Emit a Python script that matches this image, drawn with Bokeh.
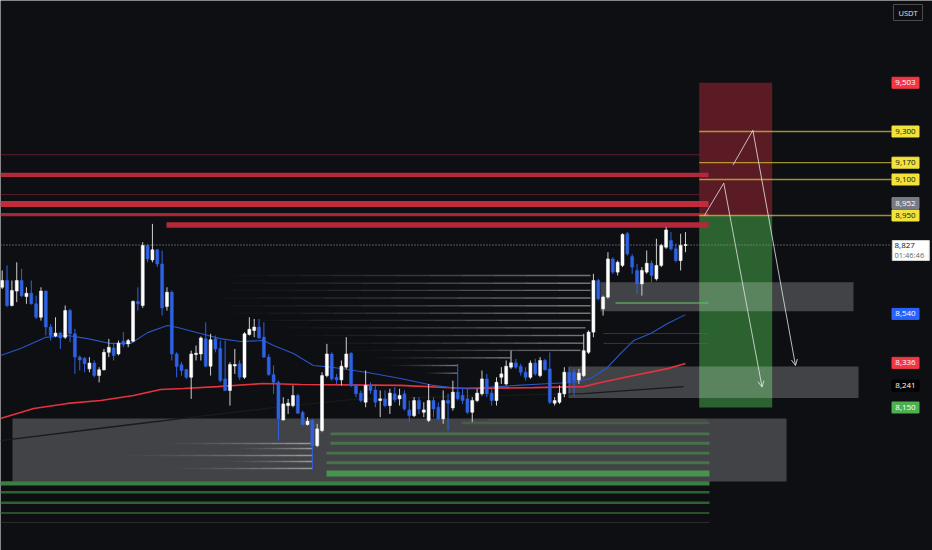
import numpy as np
from bokeh.plotting import figure
from bokeh.models import Range1d, Arrow, OpenHead
from bokeh.embed import file_html
from bokeh.resources import INLINE
from bokeh.core.properties import value

# ---------------- data (prices in USDT, x in bar index) ----------------
opens = [8651, 8679, 8575, 8635, 8679, 8612, 8626, 8582, 8526, 8635,
         8485, 8448, 8460, 8443, 8554, 8457, 8360, 8355, 8311, 8335,
         8283, 8307, 8380, 8398, 8373, 8426, 8415, 8426, 8592, 8575,
         8825, 8765, 8807, 8748, 8571, 8630, 8373, 8328, 8308, 8276,
         8371, 8373, 8436, 8322, 8436, 8396, 8269, 8221, 8323, 8332,
         8276, 8454, 8471, 8485, 8443, 8360, 8287, 8255, 8098, 8158,
         8158, 8200, 8130, 8079, 8096, 7991, 8054, 8283, 8373, 8276,
         8265, 8318, 8376, 8242, 8210, 8172, 8242, 8223, 8179, 8186,
         8158, 8207, 8186, 8207, 8140, 8116, 8179, 8130, 8096, 8179,
         8151, 8103, 8179, 8148, 8214, 8200, 8186, 8130, 8179, 8207,
         8269, 8210, 8179, 8276, 8248, 8318, 8336, 8322, 8297, 8276,
         8335, 8283, 8346, 8311, 8168, 8172, 8207, 8297, 8297, 8265,
         8283, 8380, 8464, 8679, 8561, 8610, 8769, 8714, 8742, 8874,
         8779, 8721, 8665, 8714, 8751, 8686, 8742, 8818, 8846, 8811,
         8762, 8825]
highs = [8721, 8742, 8679, 8755, 8728, 8651, 8679, 8616, 8651, 8637,
         8498, 8526, 8464, 8575, 8561, 8478, 8367, 8360, 8360, 8346,
         8318, 8394, 8436, 8418, 8429, 8464, 8436, 8596, 8651, 8839,
         8832, 8915, 8811, 8804, 8651, 8637, 8380, 8339, 8311, 8387,
         8408, 8446, 8505, 8457, 8450, 8429, 8429, 8339, 8394, 8346,
         8464, 8526, 8519, 8519, 8505, 8373, 8325, 8262, 8193, 8186,
         8242, 8207, 8137, 8110, 8103, 8082, 8297, 8415, 8380, 8290,
         8346, 8443, 8380, 8248, 8221, 8304, 8255, 8248, 8221, 8221,
         8228, 8235, 8228, 8221, 8179, 8193, 8193, 8172, 8248, 8193,
         8172, 8221, 8207, 8262, 8332, 8228, 8228, 8193, 8228, 8304,
         8290, 8228, 8276, 8318, 8346, 8387, 8353, 8332, 8318, 8346,
         8353, 8360, 8353, 8380, 8193, 8242, 8318, 8318, 8311, 8311,
         8457, 8471, 8707, 8686, 8616, 8797, 8776, 8762, 8876, 8881,
         8790, 8748, 8735, 8804, 8762, 8853, 8832, 8901, 8881, 8832,
         8874, 8881]
lows = [8644, 8568, 8571, 8589, 8610, 8582, 8579, 8519, 8512, 8450,
        8429, 8443, 8394, 8436, 8422, 8290, 8304, 8297, 8297, 8276,
        8255, 8304, 8360, 8346, 8367, 8401, 8401, 8422, 8554, 8565,
        8755, 8755, 8735, 8533, 8554, 8346, 8276, 8283, 8269, 8186,
        8346, 8346, 8318, 8283, 8380, 8255, 8218, 8158, 8290, 8265,
        8269, 8450, 8443, 8436, 8357, 8283, 8207, 8012, 8096, 8123,
        8151, 8123, 8075, 8075, 7894, 7985, 8047, 8276, 8262, 8248,
        8242, 8311, 8235, 8193, 8172, 8151, 8207, 8151, 8110, 8151,
        8123, 8172, 8158, 8137, 8089, 8110, 8123, 8110, 8089, 8110,
        8096, 8082, 8054, 8137, 8179, 8165, 8123, 8089, 8172, 8200,
        8193, 8158, 8158, 8248, 8242, 8311, 8311, 8283, 8262, 8269,
        8283, 8276, 8304, 8165, 8158, 8165, 8193, 8207, 8200, 8248,
        8276, 8373, 8443, 8596, 8533, 8603, 8707, 8700, 8735, 8783,
        8707, 8623, 8616, 8707, 8672, 8679, 8735, 8811, 8804, 8755,
        8721, 8797]
closes = [8679, 8575, 8637, 8679, 8616, 8626, 8582, 8526, 8635, 8485,
          8450, 8460, 8440, 8554, 8457, 8360, 8348, 8332, 8335, 8283,
          8307, 8380, 8401, 8367, 8418, 8412, 8429, 8592, 8582, 8825,
          8769, 8807, 8748, 8565, 8630, 8373, 8321, 8304, 8276, 8373,
          8376, 8440, 8322, 8432, 8394, 8262, 8221, 8329, 8329, 8276,
          8457, 8476, 8485, 8440, 8360, 8287, 8255, 8103, 8165, 8168,
          8200, 8126, 8079, 8093, 7991, 8061, 8283, 8373, 8269, 8265,
          8322, 8373, 8242, 8207, 8179, 8242, 8221, 8172, 8186, 8158,
          8210, 8182, 8200, 8144, 8116, 8179, 8144, 8140, 8179, 8144,
          8103, 8179, 8168, 8214, 8186, 8179, 8130, 8179, 8210, 8269,
          8207, 8179, 8255, 8290, 8322, 8336, 8318, 8297, 8276, 8335,
          8290, 8346, 8307, 8172, 8179, 8210, 8297, 8255, 8262, 8293,
          8387, 8464, 8679, 8603, 8610, 8769, 8714, 8755, 8871, 8790,
          8735, 8665, 8721, 8751, 8700, 8742, 8825, 8890, 8811, 8762,
          8825, 8827]

ma_fast_x = [-0.35, 3.8, 8.9, 13.5, 17.6, 22.3, 26.5, 30.0, 34.1, 36.2, 40.9, 45.0,
             49.2, 53.9, 56.0, 60.1, 64.2, 68.4, 75.4, 82.2, 89.0, 94.0, 99.3, 106.3,
             113.1, 117.9, 121.4, 124.9, 127.6, 130.3, 133.8, 137.3, 141.0]
ma_fast_y = [8367, 8396, 8442, 8450, 8437, 8417, 8417, 8462, 8492, 8483, 8458, 8437,
             8425, 8429, 8408, 8375, 8325, 8317, 8296, 8271, 8242, 8229, 8233, 8242,
             8250, 8254, 8271, 8317, 8375, 8429, 8458, 8500, 8537]
ma_mid_x = [-0.35, 6.5, 13.5, 20.3, 27.1, 32.7, 37.4, 44.4, 53.9, 61.6, 82.2, 96.0,
            109.6, 120.0, 123.5, 130.3, 137.3, 141.0]
ma_mid_y = [8104, 8146, 8167, 8179, 8200, 8225, 8229, 8237, 8250, 8246, 8242, 8229,
            8233, 8237, 8254, 8283, 8312, 8333]
ma_slow_x = [-0.35, 25.0, 36.8, 54.7, 71.9, 92.5, 120.0, 140.6]
ma_slow_y = [8012, 8075, 8104, 8146, 8183, 8196, 8208, 8237]

stop_price = 9503
entry_price = 8950
target_price = 8150
tp_levels = [9300, 9170, 9100, 8950]

resist_band_top = [9128, 9010, 8960, 8922]
resist_band_bot = [9110, 8985, 8947, 8899]
resist_thin = [9203, 9037]

zone_top = [8672, 8321, 8104]
zone_bot = [8551, 8190, 7842]

vp_mid_levels = [8700, 8668, 8638, 8606, 8574, 8543, 8513, 8482, 8450, 8418, 8388, 8357, 8325, 8293]
vp_low_levels = [8000, 7979, 7950, 7925, 7896]
faint_levels = [8458, 8417, 8098]

green_in_levels = [8086, 8040, 8001, 7960, 7920]
green_thick = [7888, 7862]
green_under_band = [7843, 7825]
green_under_lines = [7797, 7753, 7710, 7671]
zone_green_line = 8585

path1_x = [144.9, 148.9, 156.8]
path1_y = [8950, 9085, 8235]
path2_x = [150.8, 154.9, 163.7]
path2_y = [9160, 9305, 8325]

last_price = 8827
axis_values = [9503, 9300, 9170, 9100, 8952, 8950, 8540, 8336, 8241, 8150]
axis_texts = ["9,503", "9,300", "9,170", "9,100", "8,952", "8,950", "8,540", "8,336", "8,241", "8,150"]
last_text = "8,827"
countdown = "01:46:46"
currency = "USDT"

# ---------------- layout helpers (page pixel -> data) ----------------
BAR0, BARW = 1.7, 4.846
PY0, PREF, PPP = 131.0, 9300.0, 0.24
W, H, M = 932, 550, 0


def bx(xp):
    return (xp - BAR0) / BARW


def pr(yp):
    return PREF - (yp - PY0) / PPP


BG = "#0e0f13"
BLUE = "#2f62e3"
RED = "#f23645"
YEL = "#f2e33c"
FONT = value("Open Sans")

p = figure(width=W, height=H, output_backend="svg", toolbar_location=None,
           x_range=Range1d(bx(M), bx(M + W)), y_range=Range1d(pr(M + H), pr(M)),
           x_axis_location=None, y_axis_location=None,
           background_fill_color=BG, border_fill_color=BG,
           min_border=0, outline_line_color=None)
p.grid.visible = False

# trade position boxes
p.quad(left=bx(698.7), right=bx(771.7), top=stop_price, bottom=entry_price,
       fill_color="#5b1b25", line_color=None)
p.quad(left=bx(698.7), right=bx(771.7), top=entry_price, bottom=target_price,
       fill_color="#2b6230", line_color=None)

# gray zones
p.quad(left=[bx(600), bx(568), bx(12)], right=[bx(853), bx(858), bx(786)],
       top=zone_top, bottom=zone_bot, fill_color="white", fill_alpha=0.22, line_color=None)

# green bands (bottom)
gl = [bx(461), bx(330), bx(330), bx(326), bx(326)]
p.quad(left=gl, right=[bx(709)] * 5,
       top=[v + 6 for v in green_in_levels], bottom=[v - 6 for v in green_in_levels],
       fill_color="#4caf50", fill_alpha=[0.25, 0.45, 0.45, 0.45, 0.45], line_color=None)
p.quad(left=[bx(326)], right=[bx(709)], top=[green_thick[0]], bottom=[green_thick[1]],
       fill_color="#4caf50", fill_alpha=0.75, line_color=None)
p.quad(left=[bx(0)], right=[bx(709)], top=[green_under_band[0]], bottom=[green_under_band[1]],
       fill_color="#3b7f3e", line_color=None)
p.segment(x0=[bx(0)] * 4, x1=[bx(709)] * 4, y0=green_under_lines, y1=green_under_lines,
          line_color=["#2f6232", "#2f6232", "#294f2b", "#2a302b"],
          line_width=[2.5, 2.5, 2, 1])
p.segment(x0=[bx(615)], x1=[bx(708)], y0=[zone_green_line], y1=[zone_green_line],
          line_color="#5fb862", line_alpha=0.6, line_width=2)


def add_fade(levels, starts, ends, color, amax, width, n=12):
    x0s, x1s, ys, al = [], [], [], []
    for lv, a, b in zip(levels, starts, ends):
        edges = np.linspace(a, b, n + 1)
        for k in range(n):
            x0s.append(edges[k]); x1s.append(edges[k + 1]); ys.append(lv)
            al.append(amax * ((k + 1) / n) ** 1.6)
    p.segment(x0=x0s, y0=ys, x1=x1s, y1=ys, line_color=color, line_alpha=al, line_width=width)


mid_starts = [bx(v) for v in [203, 198, 197, 190, 198, 205, 215, 260, 270, 300, 330, 360, 380, 420]]
mid_ends = [bx(v) for v in [590] * 7 + [585, 583, 583, 580, 510, 457, 457]]
add_fade(vp_mid_levels, mid_starts, mid_ends, "#a0a0a0", 0.7, 1.4)
add_fade(vp_low_levels, [bx(v) for v in [150, 230, 110, 220, 160]], [bx(312)] * 5,
         "#cfcfcf", 0.6, 1.5)
p.segment(x0=[bx(603), bx(603), bx(487)], x1=[bx(707)] * 3, y0=faint_levels, y1=faint_levels,
          line_color="#6a6a6a", line_alpha=0.45, line_width=1)

# resistance lines
p.quad(left=[bx(0), bx(0), bx(0), bx(166)], right=[bx(708)] * 4,
       top=resist_band_top, bottom=resist_band_bot,
       fill_color=["#b3283a", "#c22b3c", "#a92535", "#b3283a"], line_color=None)
p.segment(x0=[bx(0)] * 2, x1=[bx(700)] * 2, y0=resist_thin, y1=resist_thin,
          line_color="#5e1f29", line_width=1)

# take-profit levels
p.segment(x0=[bx(698.7)] * 4, x1=[bx(891)] * 4, y0=tp_levels, y1=tp_levels,
          line_color=YEL, line_alpha=0.62, line_width=1.3)

# last price dotted line
p.segment(x0=[bx(0)], x1=[bx(889)], y0=[last_price], y1=[last_price],
          line_color="#9a9da6", line_dash="1 2", line_width=1)

# moving averages
p.line(ma_slow_x, ma_slow_y, line_color="#1a1a1a", line_width=1.3)
p.line(ma_mid_x, ma_mid_y, line_color="#e5323f", line_width=1.6)
p.line(ma_fast_x, ma_fast_y, line_color="#2b55c8", line_width=1.1)

# candles
idx = np.arange(len(opens))
o = np.array(opens, float); c = np.array(closes, float)
up = c >= o
body_col = np.where(up, "#ffffff", BLUE).tolist()
wick_col = np.where(up, "#cfcfcf", BLUE).tolist()
top = np.maximum(o, c); bot = np.minimum(o, c)
top = np.where(top - bot < 4, bot + 4, top)
p.segment(x0=idx, x1=idx, y0=lows, y1=highs, line_color=wick_col, line_width=1)
p.vbar(x=idx, width=0.62, top=top, bottom=bot, fill_color=body_col, line_color=body_col, line_width=0.5)

# projection paths
for xs, ys in ((path1_x, path1_y), (path2_x, path2_y)):
    p.line(xs[:2], ys[:2], line_color="#e6e6e6", line_alpha=0.8, line_width=1)
    p.add_layout(Arrow(end=OpenHead(size=6, line_color="#e6e6e6", line_alpha=0.85, line_width=1),
                       x_start=xs[1], y_start=ys[1], x_end=xs[2], y_end=ys[2],
                       line_color="#e6e6e6", line_alpha=0.8, line_width=1))

# price scale labels
lab_bg = [RED, YEL, YEL, YEL, "#787b86", YEL, "#2962ff", RED, "#000000", "#4caf50"]
lab_fg = ["white", "#111111", "#111111", "#111111", "white", "#111111", "white", "white", "white", "white"]
lab_off = [0, 0, 0, 0, -12, 0, 0, 0, 0, 0]
lab_y = [v - off / PPP for v, off in zip(axis_values, lab_off)]
LX = bx(905)
p.rect(x=[LX] * len(lab_y), y=lab_y, width=27, height=11, width_units="screen",
       height_units="screen", fill_color=lab_bg, line_color=lab_bg)
p.text(x=[LX] * len(lab_y), y=lab_y, text=axis_texts, text_color=lab_fg,
       text_font=FONT, text_font_size="8px", text_align="center", text_baseline="middle")

# last price label
p.rect(x=[bx(910.3)], y=[pr(250)], width=37, height=20, width_units="screen",
       height_units="screen", fill_color="white", line_color="#d0d0d0")
p.text(x=[bx(894)], y=[pr(244.5)], text=[last_text], text_color="#111111",
       text_font=FONT, text_font_size="8px", text_align="left", text_baseline="middle")
p.text(x=[bx(894)], y=[pr(254.5)], text=[countdown], text_color="#666666",
       text_font=FONT, text_font_size="7.5px", text_align="left", text_baseline="middle")

# currency box
p.rect(x=[bx(907.5)], y=[pr(12)], width=29, height=16, width_units="screen",
       height_units="screen", fill_color=BG, line_color="#4a4b50")
p.text(x=[bx(907.5)], y=[pr(12)], text=[currency], text_color="#e0e0e0",
       text_font=FONT, text_font_size="7.5px", text_align="center", text_baseline="middle")

open("out.html", "w").write(file_html(p, INLINE))
